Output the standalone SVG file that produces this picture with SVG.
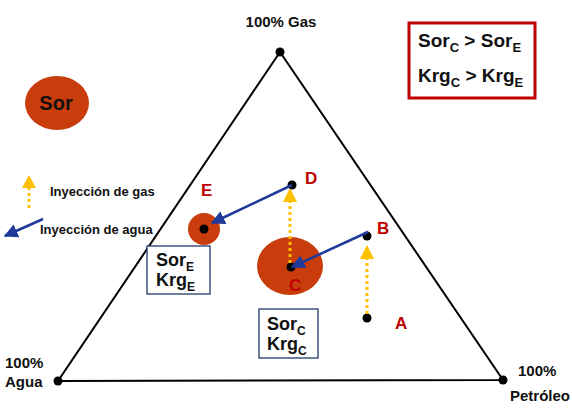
<svg xmlns="http://www.w3.org/2000/svg" width="572" height="412" viewBox="0 0 572 412">
<defs>
<style>
.t{font-family:"Liberation Sans",Arial,sans-serif;font-weight:bold;fill:#111}
.lbl{font-family:"Liberation Sans",Arial,sans-serif;font-weight:bold;fill:#c00000;font-size:17px}
.gas{stroke:#ffc000;stroke-width:3;stroke-dasharray:3 3;fill:none}
.wat{stroke:#1f3a9a;stroke-width:2.5;fill:none}
.dot{fill:#000}
.blob{fill:#c93c0b}
.box{fill:#fff;stroke:#1f3a6a;stroke-width:1.3}
</style>
<marker id="ah" viewBox="0 0 10 10" refX="9" refY="5" markerWidth="5.6" markerHeight="5.6" orient="auto" markerUnits="strokeWidth">
<path d="M0,0 L10,5 L0,10 z" fill="#1f3a9a"/>
</marker>
</defs>
<rect width="572" height="412" fill="#fff"/>
<g id="triangle">
<path d="M280,52 L58,381 L503,380 Z" fill="none" stroke="#000" stroke-width="2"/>
<circle class="dot" cx="280" cy="52" r="4.5"/>
<circle class="dot" cx="58" cy="381" r="4.5"/>
<circle class="dot" cx="503" cy="380" r="4.5"/>
</g>
<g id="vertex-labels">
<text class="t" x="281" y="27" font-size="15" text-anchor="middle">100% Gas</text>
<text class="t" x="5" y="368" font-size="15">100%</text>
<text class="t" x="5" y="387" font-size="15">Agua</text>
<text class="t" x="518" y="376" font-size="15">100%</text>
<text class="t" x="510" y="401" font-size="15">Petróleo</text>
</g>
<g id="sor-legend">
<ellipse class="blob" cx="57" cy="103" rx="32" ry="27"/>
<text class="t" x="56" y="110" font-size="20" text-anchor="middle">Sor</text>
</g>
<g id="condition-box">
<rect x="409" y="23" width="126" height="75" fill="#fff" stroke="#c00000" stroke-width="3"/>
<text class="t" x="418" y="47" font-size="19">Sor<tspan font-size="13" dy="5">C</tspan><tspan dy="-5"> &gt; Sor</tspan><tspan font-size="13" dy="5">E</tspan></text>
<text class="t" x="418" y="82" font-size="19">Krg<tspan font-size="13" dy="5">C</tspan><tspan dy="-5"> &gt; Krg</tspan><tspan font-size="13" dy="5">E</tspan></text>
</g>
<g id="legend">
<line class="gas" x1="29" y1="187" x2="29" y2="208"/>
<path d="M29,175 L36,188 L22,188 Z" fill="#ffc000"/>
<text class="t" x="50" y="196" font-size="13">Inyección de gas</text>
<line class="wat" x1="43" y1="219" x2="5" y2="236" marker-end="url(#ah)"/>
<text class="t" x="40" y="234" font-size="13">Inyección de agua</text>
</g>
<g id="node-E">
<circle class="blob" cx="204" cy="229" r="16"/>
<circle class="dot" cx="204" cy="229" r="4.5"/>
<text class="lbl" x="201" y="196">E</text>
</g>
<g id="node-C">
<ellipse class="blob" cx="290" cy="266" rx="33" ry="29"/>
<circle class="dot" cx="291" cy="267" r="4.5"/>
<text class="lbl" x="289" y="291">C</text>
</g>
<g id="node-D">
<circle class="dot" cx="292" cy="185" r="4.5"/>
<text class="lbl" x="305" y="184">D</text>
</g>
<g id="node-B">
<circle class="dot" cx="367" cy="236" r="4.5"/>
<text class="lbl" x="377" y="234">B</text>
</g>
<g id="node-A">
<circle class="dot" cx="367" cy="318" r="4.5"/>
<text class="lbl" x="395" y="329">A</text>
</g>
<g id="box-E">
<rect class="box" x="147" y="246" width="63" height="48"/>
<text class="t" x="156" y="266" font-size="18">Sor<tspan font-size="12" dy="5">E</tspan></text>
<text class="t" x="156" y="286" font-size="18">Krg<tspan font-size="12" dy="5">E</tspan></text>
</g>
<g id="box-C">
<rect class="box" x="259" y="309" width="59" height="49"/>
<text class="t" x="267" y="330" font-size="18">Sor<tspan font-size="12" dy="5">C</tspan></text>
<text class="t" x="267" y="350" font-size="18">Krg<tspan font-size="12" dy="5">C</tspan></text>
</g>
<g id="connectors">
<line class="gas" x1="367" y1="314" x2="367" y2="258"/>
<path d="M367,245 L374,259 L360,259 Z" fill="#ffc000"/>
<line class="gas" x1="290" y1="263" x2="290" y2="202"/>
<path d="M290,188 L297,202 L283,202 Z" fill="#ffc000"/>
<line class="wat" x1="368" y1="232" x2="292" y2="267" marker-end="url(#ah)"/>
<line class="wat" x1="292" y1="185" x2="212" y2="223" marker-end="url(#ah)"/>
</g>
</svg>
